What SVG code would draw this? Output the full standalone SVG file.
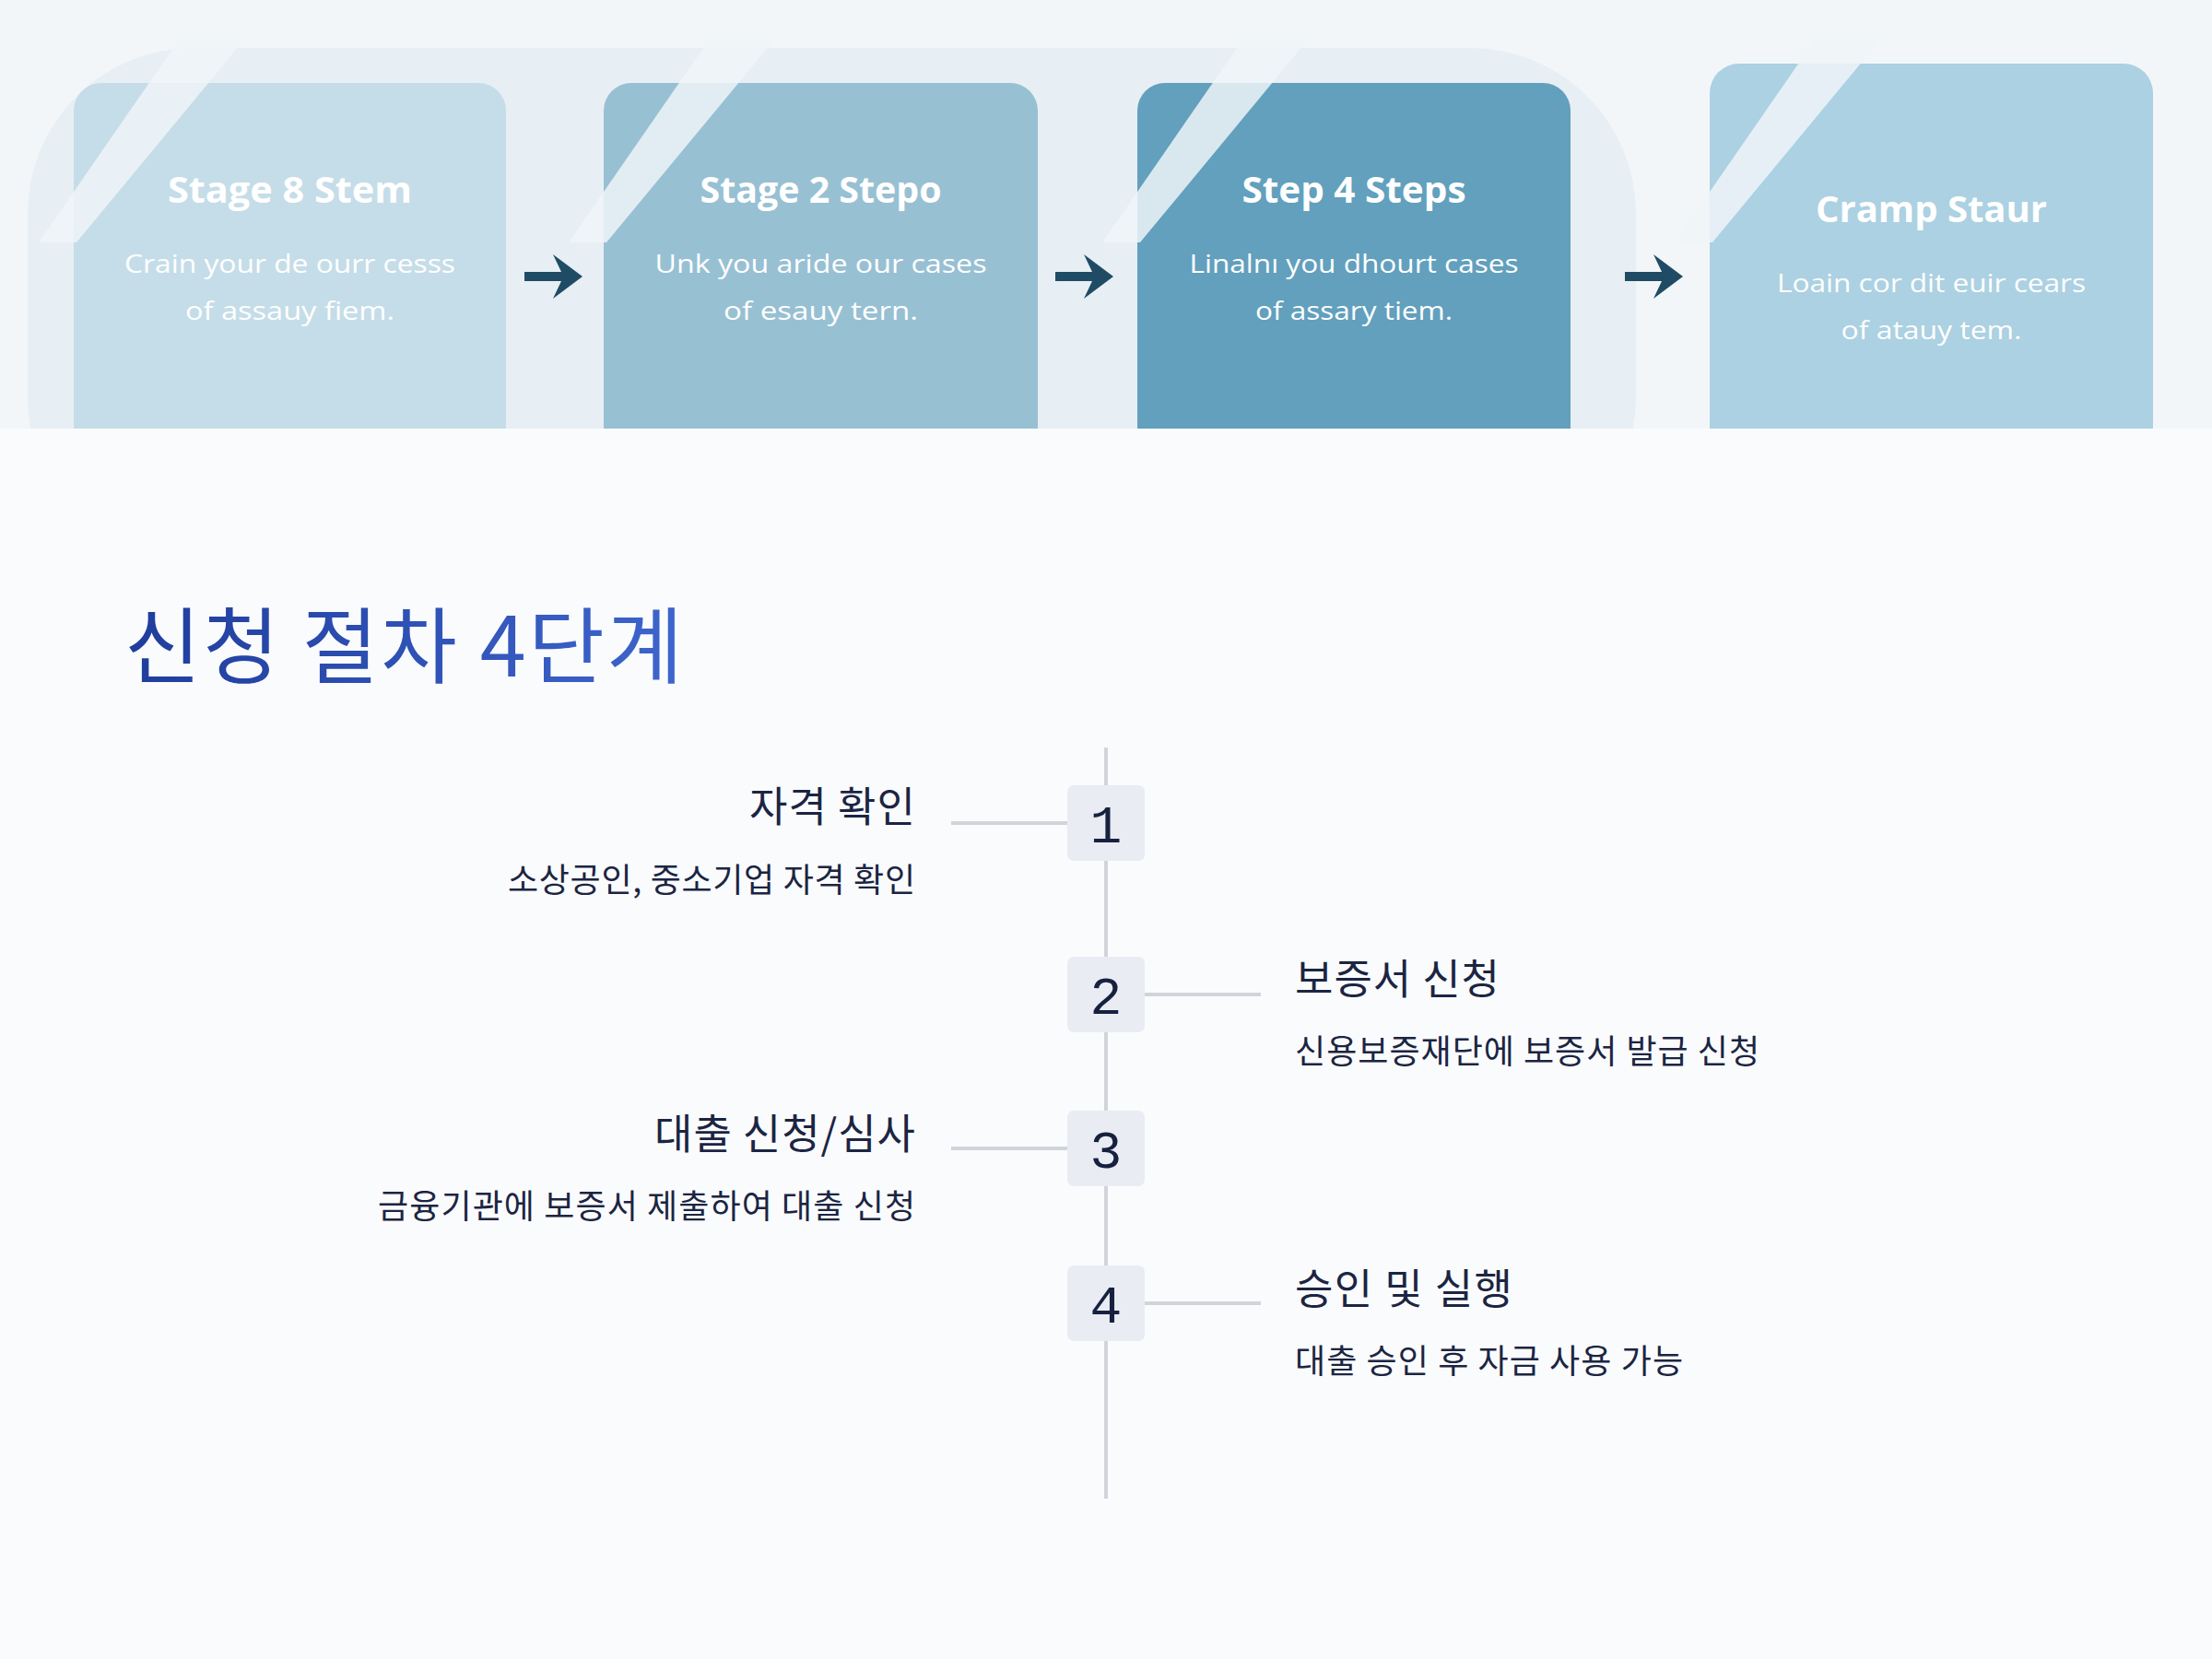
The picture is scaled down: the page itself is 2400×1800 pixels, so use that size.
<svg xmlns="http://www.w3.org/2000/svg" width="2400" height="1800" viewBox="0 0 2400 1800">
<defs>
<style>
.card-title{font-family:"Open Sans","Noto Sans",sans-serif;font-weight:700;font-size:40px;fill:#ffffff;text-anchor:middle}
.card-desc{font-family:"Open Sans","Noto Sans",sans-serif;font-weight:400;font-size:28px;fill:#ffffff;text-anchor:middle}
.stitle{font-family:"Noto Sans CJK KR","Noto Sans CJK SC",sans-serif;font-weight:400;font-size:45px;fill:#1b2542}
.sdesc{font-family:"Noto Sans CJK KR","Noto Sans CJK SC",sans-serif;font-weight:400;font-size:36px;fill:#1b2542}
.right{text-anchor:end}
.num{font-family:"Liberation Mono","DejaVu Sans Mono",monospace;font-size:58px;fill:#17213f;text-anchor:middle}
.box{fill:#e9ecf3}
.conn{stroke:#d2d4da;stroke-width:4;fill:none}
.stripe{fill:#eef4f8;opacity:0.85}
.arrow{fill:#1f4c64}
</style>
<clipPath id="bannerClip"><rect x="0" y="0" width="2400" height="465"/></clipPath>
<linearGradient id="titleGrad" gradientUnits="userSpaceOnUse" x1="135" y1="0" x2="741" y2="0">
<stop offset="0" stop-color="#1f3d9c"/>
<stop offset="1" stop-color="#3e65cd"/>
</linearGradient>
</defs>

<rect x="0" y="0" width="2400" height="1800" fill="#fafbfd"/>

<g id="banner" clip-path="url(#bannerClip)">
<rect x="0" y="0" width="2400" height="465" fill="#f3f6f9"/>
<rect x="30" y="52" width="1745" height="560" rx="180" fill="#e7eff4"/>

<g id="card1">
<rect x="80" y="90" width="469" height="450" rx="30" fill="#c5dde8"/>
<polygon class="stripe" points="195,42 266,42 83,263 42,263"/>
<text class="card-title" x="314.5" y="220" textLength="265" lengthAdjust="spacingAndGlyphs">Stage 8 Stem</text>
<text class="card-desc" x="314.5" y="296" textLength="359" lengthAdjust="spacingAndGlyphs">Crain your de ourr cesss</text>
<text class="card-desc" x="314.5" y="347" textLength="227" lengthAdjust="spacingAndGlyphs">of assauy fiem.</text>
</g>

<g id="card2">
<rect x="655" y="90" width="471" height="450" rx="30" fill="#98c0d3"/>
<polygon class="stripe" points="770,42 841,42 658,263 617,263"/>
<text class="card-title" x="890.5" y="220" textLength="262" lengthAdjust="spacingAndGlyphs">Stage 2 Stepo</text>
<text class="card-desc" x="890.5" y="296" textLength="360" lengthAdjust="spacingAndGlyphs">Unk you aride our cases</text>
<text class="card-desc" x="890.5" y="347" textLength="211" lengthAdjust="spacingAndGlyphs">of esauy tern.</text>
</g>

<g id="card3">
<rect x="1234" y="90" width="470" height="450" rx="30" fill="#62a0bd"/>
<polygon class="stripe" points="1349,42 1420,42 1237,263 1196,263"/>
<text class="card-title" x="1469" y="220" textLength="243" lengthAdjust="spacingAndGlyphs">Step 4 Steps</text>
<text class="card-desc" x="1469" y="296" textLength="357" lengthAdjust="spacingAndGlyphs">Linalnı you dhourt cases</text>
<text class="card-desc" x="1469" y="347" textLength="214" lengthAdjust="spacingAndGlyphs">of assary tiem.</text>
</g>

<g id="card4">
<rect x="1855" y="69" width="481" height="470" rx="32" fill="#acd1e2"/>
<polygon class="stripe" points="1970,42 2041,42 1858,263 1817,263"/>
<text class="card-title" x="2095.5" y="241" textLength="251" lengthAdjust="spacingAndGlyphs">Cramp Staur</text>
<text class="card-desc" x="2095.5" y="317" textLength="335" lengthAdjust="spacingAndGlyphs">Loain cor dit euir cears</text>
<text class="card-desc" x="2095.5" y="368" textLength="196" lengthAdjust="spacingAndGlyphs">of atauy tem.</text>
</g>

<g id="banner-arrows">
<path class="arrow" d="M569,295 H609 L600,276 L632,300 L600,324 L609,305 H569 Z"/>
<path class="arrow" d="M1145,295 H1185 L1176,276 L1208,300 L1176,324 L1185,305 H1145 Z"/>
<path class="arrow" d="M1763,295 H1803 L1794,276 L1826,300 L1794,324 L1803,305 H1763 Z"/>
</g>
</g>

<g id="heading">
<text x="135" y="734" font-family="Noto Sans CJK KR, Noto Sans CJK SC, sans-serif" font-size="90" font-weight="400" fill="url(#titleGrad)" textLength="606" lengthAdjust="spacing">신청 절차 4단계</text>
</g>

<g id="connectors">
<line class="conn" x1="1200" y1="811" x2="1200" y2="1626"/>
<line class="conn" x1="1032" y1="893" x2="1158" y2="893"/>
<line class="conn" x1="1242" y1="1079" x2="1368" y2="1079"/>
<line class="conn" x1="1032" y1="1246" x2="1158" y2="1246"/>
<line class="conn" x1="1242" y1="1414" x2="1368" y2="1414"/>
</g>

<g id="step1">
<rect class="box" x="1158" y="852" width="84" height="82" rx="7"/>
<text class="num" x="1200" y="914">1</text>
<text class="stitle right" x="993" y="892" textLength="180" lengthAdjust="spacing">자격 확인</text>
<text class="sdesc right" x="993" y="968" textLength="442" lengthAdjust="spacing">소상공인, 중소기업 자격 확인</text>
</g>

<g id="step2">
<rect class="box" x="1158" y="1038" width="84" height="82" rx="7"/>
<text class="num" x="1200" y="1100">2</text>
<text class="stitle" x="1405" y="1079" textLength="222" lengthAdjust="spacing">보증서 신청</text>
<text class="sdesc" x="1405" y="1154" textLength="504" lengthAdjust="spacing">신용보증재단에 보증서 발급 신청</text>
</g>

<g id="step3">
<rect class="box" x="1158" y="1205" width="84" height="82" rx="7"/>
<text class="num" x="1200" y="1267">3</text>
<text class="stitle right" x="993" y="1247" textLength="283" lengthAdjust="spacing">대출 신청/심사</text>
<text class="sdesc right" x="993" y="1322" textLength="583" lengthAdjust="spacing">금융기관에 보증서 제출하여 대출 신청</text>
</g>

<g id="step4">
<rect class="box" x="1158" y="1373" width="84" height="82" rx="7"/>
<text class="num" x="1200" y="1435">4</text>
<text class="stitle" x="1405" y="1415" textLength="236" lengthAdjust="spacing">승인 및 실행</text>
<text class="sdesc" x="1405" y="1490" textLength="421" lengthAdjust="spacing">대출 승인 후 자금 사용 가능</text>
</g>
</svg>
